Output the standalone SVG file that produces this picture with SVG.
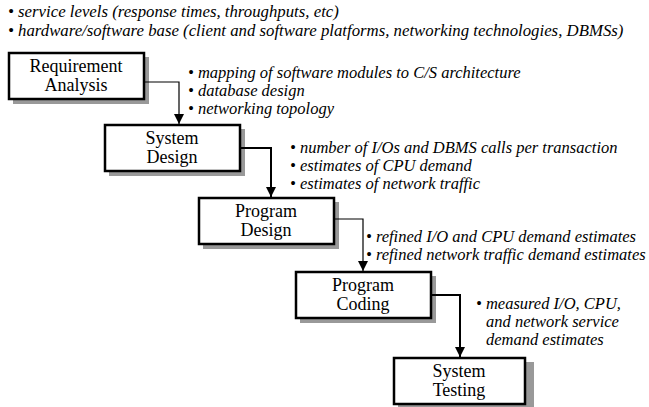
<svg xmlns="http://www.w3.org/2000/svg" width="649" height="407" viewBox="0 0 649 407">
  <defs>
    <marker id="arrow" viewBox="0 0 10 10" refX="10" refY="5" markerWidth="10" markerHeight="10" markerUnits="userSpaceOnUse" orient="auto">
      <path d="M0,0 L10,5 L0,10 z" fill="#000"/>
    </marker>
    <marker id="arrowBold" viewBox="0 0 10 10" refX="10" refY="5" markerWidth="12" markerHeight="10" markerUnits="userSpaceOnUse" orient="auto">
      <path d="M0,0 L10,5 L0,10 z" fill="#000"/>
    </marker>
  </defs>
  <style>
    .shadow { fill: #999999; }
    .box { fill: #ffffff; stroke: #000000; stroke-width: 2.5; }
    .label { font-family: 'Liberation Serif', 'Times New Roman', serif; font-size: 18px; fill: #000; text-anchor: middle; }
    .note { font-family: 'Liberation Serif', 'Times New Roman', serif; font-size: 16.5px; font-style: italic; fill: #000; }
    .wide { font-size: 16.8px; }
    .thin { fill: none; stroke: #000; stroke-width: 1.2; }
    .bold { fill: none; stroke: #000; stroke-width: 2; }
  </style>
  <rect width="649" height="407" fill="#ffffff"/>

  <!-- general inputs -->
  <g id="inputs">
    <text class="note wide" x="8" y="17">• service levels (response times, throughputs, etc)</text>
    <text class="note wide" x="8" y="36">• hardware/software base (client and software platforms, networking technologies, DBMSs)</text>
  </g>

  <!-- phase boxes -->
  <g id="requirement-analysis">
    <rect class="shadow" x="13" y="57" width="136" height="47"/>
    <rect class="box" x="9" y="53" width="135" height="46"/>
    <text class="label" x="76" y="72">Requirement</text>
    <text class="label" x="76" y="91">Analysis</text>
  </g>
  <g id="system-design">
    <rect class="shadow" x="109" y="129" width="136" height="47"/>
    <rect class="box" x="105" y="125" width="135" height="46"/>
    <text class="label" x="172" y="144">System</text>
    <text class="label" x="172" y="163">Design</text>
  </g>
  <g id="program-design">
    <rect class="shadow" x="203" y="202" width="136" height="47"/>
    <rect class="box" x="199" y="198" width="135" height="46"/>
    <text class="label" x="266" y="217">Program</text>
    <text class="label" x="266" y="236">Design</text>
  </g>
  <g id="program-coding">
    <rect class="shadow" x="300" y="276" width="136" height="47"/>
    <rect class="box" x="296" y="272" width="135" height="46"/>
    <text class="label" x="363" y="291">Program</text>
    <text class="label" x="363" y="310">Coding</text>
  </g>
  <g id="system-testing">
    <rect class="shadow" x="398" y="362" width="136" height="47"/>
    <rect class="box" x="394" y="358" width="131" height="46"/>
    <text class="label" x="459" y="377">System</text>
    <text class="label" x="459" y="396">Testing</text>
  </g>

  <!-- connectors -->
  <g id="connectors">
    <path class="thin" d="M144,82 H179 V124" marker-end="url(#arrow)"/>
    <path class="bold" d="M240,148 H271 V197" marker-end="url(#arrowBold)"/>
    <path class="thin" d="M334,219 H363 V271" marker-end="url(#arrow)"/>
    <path class="bold" d="M431,295 H460 V357" marker-end="url(#arrowBold)"/>
  </g>

  <!-- phase outputs -->
  <g id="notes-requirement">
    <text class="note" x="188" y="78">• mapping of software modules to C/S architecture</text>
    <text class="note" x="188" y="96">• database design</text>
    <text class="note" x="188" y="114">• networking topology</text>
  </g>
  <g id="notes-system">
    <text class="note" x="290" y="153">• number of I/Os and DBMS calls per transaction</text>
    <text class="note" x="290" y="171">• estimates of CPU demand</text>
    <text class="note" x="290" y="189">• estimates of network traffic</text>
  </g>
  <g id="notes-program">
    <text class="note" x="366" y="242">• refined I/O and CPU demand estimates</text>
    <text class="note" x="366" y="260">• refined network traffic demand estimates</text>
  </g>
  <g id="notes-coding">
    <text class="note" x="476" y="309">• measured I/O, CPU,</text>
    <text class="note" x="486" y="327">and network service</text>
    <text class="note" x="486" y="345">demand estimates</text>
  </g>
</svg>
